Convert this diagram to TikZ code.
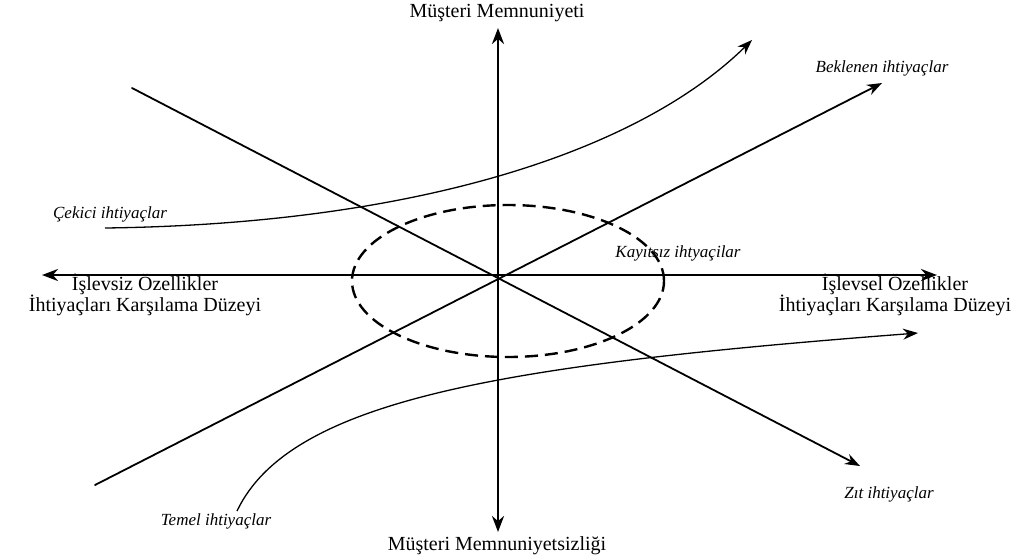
\documentclass[tikz,border=0pt]{standalone}
\usepackage{fontspec}
\setmainfont{Liberation Serif}
\usetikzlibrary{arrows.meta}
\tikzset{
  axline/.style   ={line width=2.8pt,{Stealth[length=16pt,width=12pt]}-{Stealth[length=16pt,width=12pt]}},
  needline/.style ={line width=1.8pt,line cap=round},
  needarr/.style  ={needline,-{Stealth[length=15pt,width=11pt]}},
  needcurve/.style={line width=1.3pt,-{Stealth[length=15pt,width=11pt]}},
  zone/.style     ={line width=2.4pt,dash pattern=on 13pt off 7pt},
  axlab/.style    ={inner sep=0pt,font=\fontsize{20}{17}\selectfont,align=center},
  needlab/.style  ={inner sep=0pt,font=\fontsize{17}{18}\selectfont\itshape},
}

\begin{document}
\begin{tikzpicture}[x=1pt,y=-1pt]
      \useasboundingbox (0,0) rectangle (1016,558);
      \coordinate (O) at (498,276);
      \coordinate (sTop) at (498,28);  \coordinate (sBot) at (498,532);
      \coordinate (fL) at (42,275);    \coordinate (fR) at (937,275);
      \coordinate (zS) at (132,88);    \coordinate (zE) at (860,466);
      \coordinate (bS) at (95,485);    \coordinate (bE) at (882,83);
      \coordinate (cS) at (105,228);   \coordinate (cE) at (752,40);
      \coordinate (tS) at (237,511);   \coordinate (tE) at (918,333);
      \draw[zone] (508,281) ellipse [x radius=156pt,y radius=76pt];
      \draw[axline] (sBot) -- (sTop);
      \draw[axline] (fL) -- (fR);
      \draw[needarr] (zS) -- (zE);
      \draw[needarr] (bS) -- (bE);
      \draw[needcurve] (cS) .. controls (420,224) and (640,150) .. (cE);
      \draw[needcurve] (tS) .. controls (290,400) and (500,365) .. (tE);
      \node[axlab] (satis) at (497,13) {Müşteri Memnuniyeti};
      \node[axlab] (dissat) at (497,546) {Müşteri Memnuniyetsizliği};
      \node[axlab] (nonfunc) at (145,295) {İşlevsiz Özellikler\\İhtiyaçları Karşılama Düzeyi};
      \node[axlab] (func) at (895,295) {İşlevsel Özellikler\\İhtiyaçları Karşılama Düzeyi};
      \node[needlab] (expected) at (882,68) {Beklenen ihtiyaçlar};
      \node[needlab] (attract) at (110,214) {Çekici ihtiyaçlar};
      \node[needlab] (indiff) at (678,253) {Kayıtsız ihtyaçilar};
      \node[needlab] (reverse) at (889,494) {Zıt ihtiyaçlar};
      \node[needlab] (basic) at (216,521) {Temel ihtiyaçlar};
    \end{tikzpicture}
\end{document}
